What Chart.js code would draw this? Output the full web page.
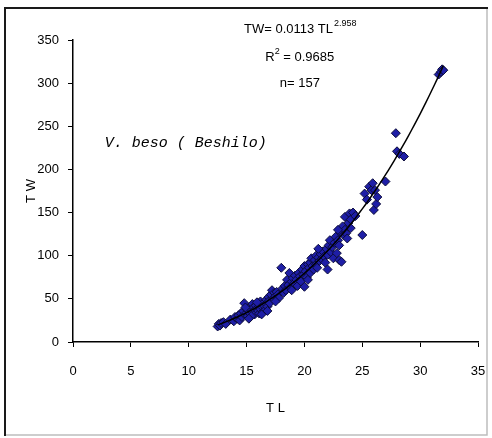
<!DOCTYPE html>
<html>
<head>
<meta charset="utf-8">
<script src="https://cdn.jsdelivr.net/npm/chart.js@4.4.1/dist/chart.umd.min.js"></script>
<style>
  html, body { margin: 0; padding: 0; background: #ffffff; }
  #wrap { width: 492px; height: 438px; position: relative; }
</style>
</head>
<body>
<div id="wrap"><canvas id="c" width="492" height="438"></canvas></div>
<script>
// Total length (TL, cm) of each fish sampled
const tl = [
  12.5, 12.6, 12.7, 12.8, 13.0, 13.2, 13.6, 13.9, 14.0,
  14.2, 14.3, 14.4, 14.5, 14.6, 14.7, 14.8, 14.9, 15.0, 15.0,
  15.1, 15.2, 15.3, 15.3, 15.4, 15.5, 15.5, 15.6, 15.7, 15.7,
  15.8, 15.9, 16.0, 16.0, 16.1, 16.1, 16.2, 16.2, 16.3, 16.4,
  16.4, 16.5, 16.5, 16.6, 16.7, 16.7, 16.8, 16.9, 16.9, 17.0,
  14.9, 15.4, 15.9, 16.3, 16.8,
  17.1, 17.2, 17.3, 17.4, 17.5, 17.6, 17.7, 17.8, 18.0, 18.1,
  18.2, 18.3, 18.4, 18.5, 18.6, 18.7, 18.8, 18.9, 19.0, 19.1,
  19.2, 19.3, 19.4, 19.5, 19.6, 19.7, 19.8, 19.9, 20.0, 20.0,
  20.1, 20.2, 20.3, 20.4, 20.5, 20.5, 20.6, 20.7, 20.8, 20.9,
  21.0, 21.0, 21.1, 21.2, 21.3, 21.4, 21.5, 21.6, 21.7, 21.8,
  21.9, 22.0, 22.0, 22.1, 22.2, 22.3, 22.4, 22.5, 22.6, 22.8,
  22.7, 22.9, 23.0, 23.0, 23.1, 23.2, 23.3, 23.4, 23.5, 23.5,
  23.6, 23.7, 23.8, 23.9, 24.0, 24.0, 24.2, 24.4,
  25.0, 25.2, 25.4, 25.6, 25.8, 25.9, 26.0, 26.1, 26.2, 26.3, 27.0,
  27.9, 28.0, 28.2, 28.6,
  31.6, 31.8, 31.9, 32.0,
  17.5, 18.9, 20.3, 21.2, 22.9, 15.2
];

// Total weight (TW, g) of the same fish, in the same order
const tw = [
  18, 21, 19, 22, 23, 21, 26, 24, 29,
  27, 31, 25, 33, 29, 36, 45, 31, 34, 38,
  30, 36, 41, 33, 38, 35, 44, 40, 37, 32,
  42, 39, 36, 45, 41, 33, 47, 38, 43, 40,
  35, 46, 42, 37, 49, 44, 41, 52, 47, 45,
  40, 30, 46, 32, 36,
  55, 60, 50, 57, 53, 58, 55, 51, 86, 62,
  57, 65, 60, 72, 66, 80, 63, 70, 74, 68,
  77, 72, 65, 80, 76, 70, 84, 78, 64, 88,
  82, 75, 90, 86, 92, 80, 97, 88, 84, 95,
  100, 90, 86, 98, 94, 102, 96, 105, 99, 92,
  108, 101, 84, 112, 118, 104, 110, 97, 115, 103,
  122, 118, 95, 112, 127, 93, 134, 124, 130, 145,
  126, 120, 138, 149, 142, 132, 150, 146,
  124, 172, 165, 180, 176, 184, 153, 176, 160, 168, 186,
  242, 221, 218, 215,
  310, 313, 316, 315,
  47, 60, 72, 108, 130, 27
];

// Power regression printed on the chart: TW = a * TL^b
const fitA = 0.0113;
const fitB = 2.958;
const fitR2 = '0.9685';
const fitFrom = 12.5;
const fitTo = 32.0;

const xTicks = [0, 5, 10, 15, 20, 25, 30, 35];
const yTicks = [0, 50, 100, 150, 200, 250, 300, 350];

const points = tl.map((x, i) => ({ x: x, y: tw[i] }));
const curve = [];
for (let x = fitFrom; x <= fitTo + 1e-9; x += 0.25) {
  curve.push({ x: x, y: fitA * Math.pow(x, fitB) });
}

const narrow = "'Liberation Sans Narrow', 'Liberation Sans', Arial, sans-serif";

// Frame around the figure and the text labels inside the plot
const decorations = {
  id: 'decorations',
  afterDraw(chart) {
    const ctx = chart.ctx;
    const xs = chart.scales.x, ys = chart.scales.y;
    ctx.save();
    // frame
    ctx.strokeStyle = '#bdbdbd';
    ctx.lineWidth = 1.5;
    ctx.beginPath();
    ctx.moveTo(487, 8); ctx.lineTo(487, 435); ctx.lineTo(5, 435);
    ctx.stroke();
    ctx.strokeStyle = '#1a1a1a';
    ctx.lineWidth = 2;
    ctx.beginPath();
    ctx.moveTo(5, 436); ctx.lineTo(5, 8); ctx.lineTo(488, 8);
    ctx.stroke();

    ctx.fillStyle = '#000';
    ctx.textBaseline = 'middle';
    const cx = xs.getPixelForValue(19.6);

    // equation
    const main = 'TW= ' + fitA.toFixed(4) + ' TL';
    const sup = String(fitB);
    ctx.font = '13px ' + narrow;
    const wMain = ctx.measureText(main).width;
    ctx.font = '9px ' + narrow;
    const wSup = ctx.measureText(sup).width;
    let x0 = cx - (wMain + wSup) / 2;
    const yEq = ys.getPixelForValue(362);
    ctx.font = '13px ' + narrow;
    ctx.textAlign = 'left';
    ctx.fillText(main, x0, yEq);
    ctx.font = '9px ' + narrow;
    ctx.fillText(sup, x0 + wMain + 1, yEq - 6);

    // R squared
    const r1 = 'R', r2 = ' = ' + fitR2;
    ctx.font = '13px ' + narrow;
    const wr1 = ctx.measureText(r1).width, wr2 = ctx.measureText(r2).width;
    ctx.font = '9px ' + narrow;
    const wrs = ctx.measureText('2').width;
    x0 = cx - (wr1 + wrs + wr2) / 2;
    const yR = ys.getPixelForValue(330);
    ctx.font = '13px ' + narrow;
    ctx.fillText(r1, x0, yR);
    ctx.font = '9px ' + narrow;
    ctx.fillText('2', x0 + wr1, yR - 6);
    ctx.font = '13px ' + narrow;
    ctx.fillText(r2, x0 + wr1 + wrs, yR);

    // sample size
    ctx.textAlign = 'center';
    ctx.fillText('n= ' + tl.length, cx, ys.getPixelForValue(300));

    // species label
    ctx.font = 'italic 15px "Liberation Mono", "DejaVu Sans Mono", monospace';
    ctx.textAlign = 'left';
    ctx.fillText('V. beso ( Beshilo)', xs.getPixelForValue(2.75), ys.getPixelForValue(231));
    ctx.restore();
  }
};

new Chart(document.getElementById('c'), {
  type: 'scatter',
  data: {
    datasets: [
      {
        type: 'line',
        label: 'fit',
        data: curve,
        borderColor: '#000',
        borderWidth: 1.5,
        pointRadius: 0,
        fill: false,
        tension: 0,
        order: 0
      },
      {
        label: 'TW',
        data: points,
        pointStyle: 'rectRot',
        pointRadius: 4.5,
        backgroundColor: '#1e1ea6',
        borderColor: '#0b0b3a',
        borderWidth: 1,
        order: 1
      }
    ]
  },
  options: {
    responsive: false,
    animation: false,
    devicePixelRatio: 1,
    layout: { padding: { left: 0, top: 40, right: 14, bottom: 20 } },
    plugins: {
      legend: { display: false },
      tooltip: { enabled: false }
    },
    scales: {
      x: {
        type: 'linear',
        min: 0, max: 35,
        afterBuildTicks: (s) => { s.ticks = xTicks.map(v => ({ value: v })); },
        afterFit: (s) => { s.height = 76; s.paddingLeft = 0; s.paddingRight = 0; },
        ticks: { color: '#000', padding: 17, font: { family: narrow, size: 13 } },
        grid: { display: true, drawOnChartArea: false, drawTicks: true, tickLength: 5, color: '#000', lineWidth: 1 },
        border: { display: true, color: '#000', width: 1.5 },
        title: { display: true, text: 'T L', color: '#000', font: { family: narrow, size: 13 }, padding: { top: 0, bottom: 2 } }
      },
      y: {
        type: 'linear',
        min: 0, max: 350,
        afterBuildTicks: (s) => { s.ticks = yTicks.map(v => ({ value: v })); },
        afterFit: (s) => { s.width = 73; },
        ticks: { color: '#000', padding: 9, font: { family: narrow, size: 13 } },
        grid: { display: true, drawOnChartArea: false, drawTicks: true, tickLength: 5, color: '#000', lineWidth: 1 },
        border: { display: true, color: '#000', width: 1.5 },
        title: { display: true, text: 'T W', color: '#000', font: { family: narrow, size: 13 }, padding: { top: 24, bottom: 0 } }
      }
    }
  },
  plugins: [decorations]
});
</script>
</body>
</html>
